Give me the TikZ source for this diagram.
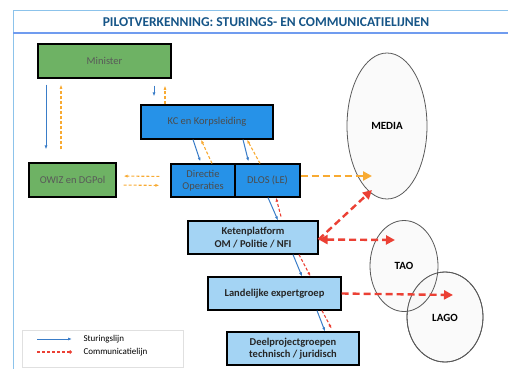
\documentclass[tikz,border=0pt]{standalone}
\usepackage{fontspec}
\setmainfont{Carlito}
\usepackage{tikz}
\usetikzlibrary{calc}
\usetikzlibrary{shapes.geometric}
\usetikzlibrary{arrows.meta}
\tikzset{>=latex}
\definecolor{titleblue}{RGB}{22,85,135}
\definecolor{framecol}{RGB}{140,195,235}
\definecolor{mingreen}{RGB}{110,178,100}
\definecolor{kcblue}{RGB}{38,146,232}
\definecolor{ketblue}{RGB}{164,212,244}
\definecolor{stuurcol}{RGB}{58,125,200}
\definecolor{comorange}{RGB}{248,170,50}
\definecolor{comred}{RGB}{235,64,52}
\tikzset{greenbox/.style = {draw, line width=1.2pt, fill=mingreen, minimum height=34pt, inner sep=0pt, font=\fontsize{10.5}{12}\selectfont, text=black!65}}
\tikzset{kcbox/.style = {draw, line width=1.2pt, fill=kcblue, minimum height=34pt, inner sep=0pt, align=center, font=\fontsize{10.5}{12}\selectfont, text=black!70}}
\tikzset{ketbox/.style = {draw, line width=1.2pt, fill=ketblue, minimum height=33pt, inner sep=0pt, align=center, font=\bfseries\fontsize{10.5}{12.5}\selectfont, text=black!85}}
\tikzset{cloud/.style = {ellipse, draw=black!65, line width=0.8pt, fill=gray!6, fill opacity=0.6, text opacity=1, inner sep=0pt, font=\bfseries\fontsize{11}{12}\selectfont}}
\tikzset{sturing/.style = {draw=stuurcol, line width=1pt, -{Latex[length=4pt,width=3pt]}}}
\tikzset{comsmall/.style = {draw=comorange, line width=1.1pt, dash pattern=on 3pt off 2pt, -{Latex[length=4pt,width=3pt]}}}
\tikzset{combig/.style = {draw=comred, line width=2.4pt, dash pattern=on 7pt off 4pt, -{Triangle[length=9pt,width=9pt]}}}

\begin{document}
\begin{tikzpicture}[x=1pt,y=-1pt]
                    \useasboundingbox (0,0) rectangle (508,369);
                    % frame and title
                    \draw[framecol, line width=1pt] (13,11) -- (508,11);
                    \draw[framecol, line width=1pt] (13,11) -- (13,369);
                    \draw[framecol!80!blue, line width=2pt] (13,33) -- (508,33);
                    \node[text=titleblue, font=\bfseries\fontsize{13.5}{15}\selectfont] (title) at (266,22) {PILOTVERKENNING: STURINGS- EN COMMUNICATIELIJNEN};

                    \node[greenbox, minimum width=133pt] (Minister) at (104.5,61) {Minister};
                    \node[greenbox, minimum width=87pt] (OWZ) at (72.5,180) {OWIZ en DGPol};
                    \node[kcbox, minimum width=132pt] (KC) at (207,122) {KC en Korpsleiding};
                    \node[kcbox, minimum width=64pt, minimum height=33pt] (Directie) at (203,180.5) {Directie\\Operaties};
                    \node[kcbox, minimum width=65pt, minimum height=33pt] (DLOS) at (267.5,180.5) {DLOS (LE)};
                    \node[ketbox, minimum width=130pt] (Keten) at (253,237.5) {Ketenplatform\\OM / Politie / NFI};
                    \node[ketbox, minimum width=133pt] (Landelijke) at (274.5,293.5) {Landelijke expertgroep};
                    \node[ketbox, minimum width=132pt] (Deel) at (293,348.5) {Deelprojectgroepen\\technisch / juridisch};

                    \node[cloud, minimum width=80pt, minimum height=146pt] (MEDIA) at (387,126) {MEDIA};
                    \node[cloud, minimum width=76pt, minimum height=90pt] (LAGO) at (445,317) {};
                    \node[cloud, minimum width=68pt, minimum height=91pt] (TAO) at (404,266) {TAO};
                    \node[font=\bfseries\fontsize{11}{12}\selectfont] (lagotext) at (445,318) {LAGO};
                    \draw[black!65, line width=0.8pt] (LAGO.center) ellipse [x radius=38pt, y radius=45pt];

                    \coordinate (mediain1) at (372,176);
                    \coordinate (mediain2) at (372,190);
                    \coordinate (taoin) at (395,240);
                    \coordinate (lagoin) at (453,295);

                    % sturingslijnen
                    \draw[sturing, shorten <=6pt, shorten >=13pt] ([xshift=-58.5pt]Minister.south) -- ([xshift=-26.5pt]OWZ.north);
                    \draw[sturing, shorten <=7pt, shorten >=8pt] ([xshift=49.5pt]Minister.south) -- ([xshift=-53pt]KC.north);
                    \draw[sturing, shorten >=2pt] ([xshift=-14pt]KC.south) -- ([xshift=-2pt]Directie.north);
                    \draw[sturing, shorten >=2pt] ([xshift=36pt]KC.south) -- ([xshift=-18.5pt]DLOS.north);
                    \draw[sturing] ([xshift=0.5pt]DLOS.south) -- ([xshift=25pt]Keten.north);
                    \draw[sturing] ([xshift=40pt]Keten.south) -- ([xshift=27.5pt]Landelijke.north);
                    \draw[sturing] ([xshift=42.5pt]Landelijke.south) -- ([xshift=32pt]Deel.north);

                    % communicatielijnen
                    \draw[comsmall, shorten <=13pt, shorten >=6pt] ([xshift=-11.5pt]OWZ.north) -- ([xshift=-43.5pt]Minister.south);
                    \draw[comsmall, shorten >=7pt] ([xshift=-42pt]KC.north) -- ([xshift=60.5pt]Minister.south);
                    \draw[comsmall] ([xshift=9pt]Directie.north) -- ([xshift=-6pt]KC.south);
                    \draw[comsmall] ([xshift=-7.5pt]DLOS.north) -- ([xshift=40pt]KC.south);
                    \draw[comsmall, shorten <=11pt, shorten >=7pt] ([yshift=4pt]Directie.west) -- ([yshift=4pt]OWZ.east);
                    \draw[comsmall, shorten <=7pt, shorten >=11pt] ([yshift=-5pt]OWZ.east) -- ([yshift=-5pt]Directie.west);
                    \draw[comsmall, comred, shorten <=4pt] ([xshift=29pt]Keten.north) -- ([xshift=8.5pt]DLOS.south);
                    \draw[comsmall, comred] ([xshift=46pt]Keten.south) -- ([xshift=36pt]Landelijke.north);
                    \draw[comsmall, comred, shorten >=3pt] ([xshift=47.5pt]Landelijke.south) -- ([xshift=40pt]Deel.north);

                    \draw[combig, comorange] ([yshift=4.5pt]DLOS.east) -- (mediain1);
                    \draw[combig] ([yshift=-2pt]Keten.east) -- (mediain2);
                    \draw[combig, {Triangle[length=9pt,width=9pt]}-{Triangle[length=9pt,width=9pt]}] ([yshift=-2pt]Keten.east) -- (taoin);
                    \draw[combig] (Landelijke.east) -- (lagoin);

                    % legenda
                    \node[draw=black!12, minimum width=161pt, minimum height=37pt] (legend) at (102.5,348.5) {};
                    \coordinate (s1) at (37,339);
                    \coordinate (s2) at (72,339);
                    \coordinate (c1) at (37,352);
                    \coordinate (c2) at (72,352);
                    \draw[sturing] (s1) -- (s2);
                    \draw[comsmall, comred, -{Circle[length=3.5pt]}] (c1) -- (c2);
                    \node[anchor=west, font=\fontsize{9}{10}\selectfont] (lsturing) at (80,339) {Sturingslijn};
                    \node[anchor=west, font=\fontsize{9}{10}\selectfont] (lcomm) at (80,352) {Communicatielijn};
                \end{tikzpicture}
\end{document}
